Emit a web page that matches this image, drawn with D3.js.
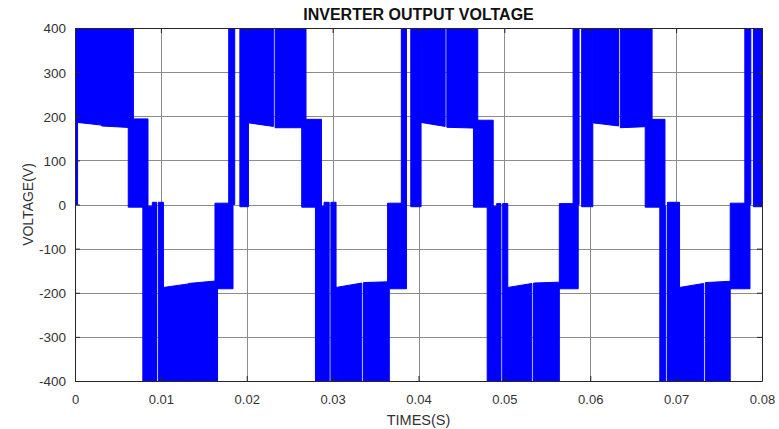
<!DOCTYPE html>
<html><head><meta charset="utf-8">
<script src="https://cdn.jsdelivr.net/npm/d3@7/dist/d3.min.js"></script>
<style>
body{margin:0;background:#fff;}
svg{display:block;font-family:"Liberation Sans",Arial,Helvetica,sans-serif;}
</style></head><body>
<svg id="chart" width="779" height="429"></svg>
<script>
const chartTitle = "INVERTER OUTPUT VOLTAGE";
const xLabel = "TIMES(S)";
const yLabel = "VOLTAGE(V)";
const xTicks = [0, 0.01, 0.02, 0.03, 0.04, 0.05, 0.06, 0.07, 0.08];
const xTickLabels = ["0", "0.01", "0.02", "0.03", "0.04", "0.05", "0.06", "0.07", "0.08"];
const yTicks = [-400, -300, -200, -100, 0, 100, 200, 300, 400];
const yTickLabels = ["-400", "-300", "-200", "-100", "0", "100", "200", "300", "400"];

// PWM switching bands (time span, lower envelope, upper envelope)
const bandStart = [
  0, 0.0003, 0.0031, 0.0062, 0.0079, 0.0090, 0.0097, 0.0103, 0.0132, 0.0163, 0.0179, 0.0192,
  0.0202, 0.0233, 0.0264, 0.0280, 0.0290, 0.0298, 0.0304, 0.0336, 0.0364, 0.0380, 0.0391,
  0.0403, 0.0433, 0.0464, 0.0480, 0.0491, 0.0498, 0.0504, 0.0534, 0.0564, 0.0580, 0.0590,
  0.0603, 0.0635, 0.0664, 0.0681, 0.0690, 0.0696, 0.0704, 0.0734, 0.0763, 0.0780, 0.0790];
const bandEnd = [
  0.0003, 0.0031, 0.0068, 0.0085, 0.0090, 0.0095, 0.0103, 0.0132, 0.0166, 0.0184, 0.0186, 0.0202,
  0.0231, 0.0269, 0.0287, 0.0290, 0.0296, 0.0304, 0.0334, 0.0366, 0.0386, 0.0386, 0.0403,
  0.0431, 0.0469, 0.0487, 0.0491, 0.0496, 0.0504, 0.0532, 0.0564, 0.0586, 0.0587, 0.0603,
  0.0633, 0.0672, 0.0687, 0.0688, 0.0696, 0.0704, 0.0732, 0.0763, 0.0786, 0.0787, 0.0800];
const lowStart = [
  0, 186, 178, -6, -400, -400, -400, -400, -400, -191, 0, -5,
  185, 174, -6, -400, -400, -400, -400, -400, -191, 0, -5,
  186, 175, -6, -400, -400, -400, -400, -400, -191, 0, -5,
  185, 174, -6, -400, -400, -400, -400, -400, -191, 0, -5];
const lowEnd = [
  0, 180, 174, -6, -400, -400, -400, -400, -400, -191, 0, -5,
  177, 174, -6, -400, -400, -400, -400, -400, -191, 0, -5,
  177, 173, -6, -400, -400, -400, -400, -400, -191, 0, -5,
  178, 177, -6, -400, -400, -400, -400, -400, -191, 0, -5];
const highStart = [
  400, 400, 400, 194, -4, 5, 5, -188, -179, 3, 400, 400,
  400, 400, 193, -4, 5, 5, -188, -177, 3, 400, 400,
  400, 400, 191, -4, 2, 2, -188, -178, 2, 400, 400,
  400, 400, 193, -4, 5, 5, -188, -177, 3, 400, 400];
const highEnd = [
  400, 400, 400, 194, -4, 5, 5, -180, -173, 3, 400, 400,
  400, 400, 193, -4, 5, 5, -178, -175, 3, 400, 400,
  400, 400, 191, -4, 2, 2, -179, -176, 2, 400, 400,
  400, 400, 193, -4, 5, 5, -179, -174, 3, 400, 400];

const W = 779, H = 429;
const m = {left: 75, right: 17, top: 28, bottom: 48};
const svg = d3.select("#chart");
const x = d3.scaleLinear().domain([0, 0.08]).range([m.left, W - m.right]);
const y = d3.scaleLinear().domain([-400, 400]).range([H - m.bottom, m.top]);
const axisColor = "#262626";

// clip
svg.append("defs").append("clipPath").attr("id", "plotClip")
  .append("rect").attr("x", m.left).attr("y", m.top)
  .attr("width", x.range()[1] - m.left).attr("height", y.range()[0] - m.top);

// grid
const grid = svg.append("g").attr("stroke", "#8c8c8c").attr("stroke-width", 1);
grid.selectAll("line.gx").data(xTicks.slice(1, -1)).join("line")
  .attr("x1", d => Math.round(x(d)) + 0.5).attr("x2", d => Math.round(x(d)) + 0.5)
  .attr("y1", y(400)).attr("y2", y(-400));
grid.selectAll("line.gy").data(yTicks.slice(1, -1)).join("line")
  .attr("y1", d => Math.round(y(d)) + 0.5).attr("y2", d => Math.round(y(d)) + 0.5)
  .attr("x1", x(0)).attr("x2", x(0.08));

// waveform bands
const bands = bandStart.map((s, i) => [
  {t: s, lo: lowStart[i], hi: highStart[i]},
  {t: bandEnd[i], lo: lowEnd[i], hi: highEnd[i]}]);
const area = d3.area().x(d => x(d.t)).y0(d => y(d.lo)).y1(d => y(d.hi));
svg.append("g").attr("clip-path", "url(#plotClip)")
  .selectAll("path").data(bands).join("path")
  .attr("d", area).attr("fill", "#0000ff")
  .attr("stroke", "#0000ff").attr("stroke-width", 1).attr("stroke-linejoin", "round");

// axes (inward ticks, box)
const tickLen = 5;
const gB = svg.append("g").attr("transform", `translate(0,${y(-400)})`)
  .call(d3.axisBottom(x).tickValues(xTicks).tickFormat((d, i) => xTickLabels[i]).tickSizeInner(-tickLen).tickSizeOuter(0).tickPadding(0));
const gT = svg.append("g").attr("transform", `translate(0,${y(400)})`)
  .call(d3.axisTop(x).tickValues(xTicks).tickFormat("").tickSizeInner(-tickLen).tickSizeOuter(0));
const gL = svg.append("g").attr("transform", `translate(${x(0)},0)`)
  .call(d3.axisLeft(y).tickValues(yTicks).tickFormat((d, i) => yTickLabels[i]).tickSizeInner(-tickLen).tickSizeOuter(0).tickPadding(0));
const gR = svg.append("g").attr("transform", `translate(${x(0.08)},0)`)
  .call(d3.axisRight(y).tickValues(yTicks).tickFormat("").tickSizeInner(-tickLen).tickSizeOuter(0));
[gB, gT, gL, gR].forEach(g => {
  g.select(".domain").attr("stroke", axisColor).attr("stroke-width", 1);
  g.selectAll(".tick line").attr("stroke", axisColor).attr("stroke-width", 1);
});
gB.selectAll(".tick text").attr("y", 23).attr("dy", null)
  .attr("font-size", 13).attr("fill", "#333").attr("font-family", null);
gL.selectAll(".tick text").attr("x", -9).attr("dy", "0.36em")
  .attr("font-size", 13.5).attr("fill", "#333").attr("font-family", null);

// titles
svg.append("text").attr("x", (x(0) + x(0.08)) / 2).attr("y", 20)
  .attr("text-anchor", "middle").attr("font-size", 16).attr("font-weight", "bold")
  .attr("fill", "#111").text(chartTitle);
svg.append("text").attr("x", (x(0) + x(0.08)) / 2).attr("y", 425)
  .attr("text-anchor", "middle").attr("font-size", 14.5).attr("fill", "#333").text(xLabel);
svg.append("text").attr("transform", `translate(33,${(y(400) + y(-400)) / 2}) rotate(-90)`)
  .attr("text-anchor", "middle").attr("font-size", 14).attr("fill", "#333").text(yLabel);
</script>
</body></html>
